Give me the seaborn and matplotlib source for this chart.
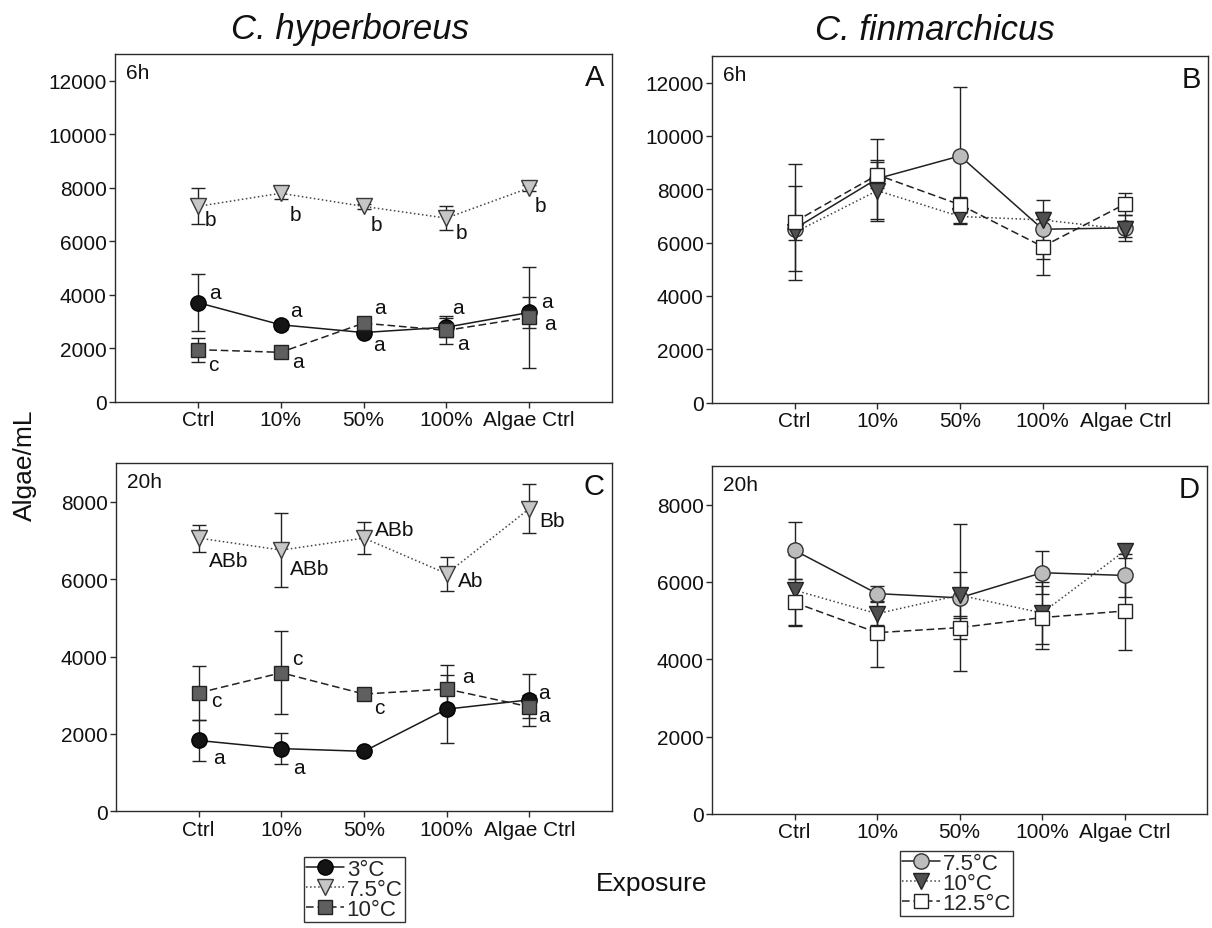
import matplotlib
matplotlib.use("Agg")
import matplotlib.pyplot as plt
import pandas as pd
import seaborn as sns

# ---------------------------------------------------------------- data
exposure = ["Ctrl", "10%", "50%", "100%", "Algae Ctrl"]

# C. hyperboreus, 6 h  (mean, SD)
hyp6_3C = [3700, 2870, 2580, 2780, 3330]
hyp6_3C_sd = [1070, 150, 100, 350, 580]
hyp6_75C = [7300, 7790, 7300, 6860, 7990]
hyp6_75C_sd = [670, 200, 100, 450, 100]
hyp6_10C = [1940, 1840, 2930, 2660, 3150]
hyp6_10C_sd = [450, 100, 150, 520, 1900]

# C. hyperboreus, 20 h
hyp20_3C = [1830, 1620, 1550, 2640, 2880]
hyp20_3C_sd = [520, 400, 80, 880, 670]
hyp20_75C = [7060, 6750, 7060, 6140, 7820]
hyp20_75C_sd = [350, 950, 420, 440, 630]
hyp20_10C = [3060, 3580, 3030, 3160, 2700]
hyp20_10C_sd = [700, 1070, 120, 620, 300]

# C. finmarchicus, 6 h
fin6_75C = [6520, 8400, 9250, 6500, 6550]
fin6_75C_sd = [1600, 1500, 2570, 1100, 500]
fin6_10C = [6380, 7950, 6980, 6850, 6500]
fin6_10C_sd = [300, 1150, 250, 300, 300]
fin6_125C = [6780, 8540, 7420, 5850, 7450]
fin6_125C_sd = [2170, 500, 300, 1050, 400]

# C. finmarchicus, 20 h
fin20_75C = [6820, 5700, 5590, 6240, 6170]
fin20_75C_sd = [740, 200, 1900, 550, 560]
fin20_10C = [5790, 5180, 5660, 5200, 6800]
fin20_10C_sd = [900, 300, 590, 800, 170]
fin20_125C = [5470, 4690, 4820, 5080, 5250]
fin20_125C_sd = [600, 890, 300, 820, 1020]

# significance letters (C. hyperboreus)
hyp6_3C_sig = ["a", "a", "a", "a", "a"]
hyp6_75C_sig = ["b", "b", "b", "b", "b"]
hyp6_10C_sig = ["c", "a", "a", "a", "a"]
hyp20_3C_sig = ["a", "a", "", "", "a"]
hyp20_75C_sig = ["ABb", "ABb", "ABb", "Ab", "Bb"]
hyp20_10C_sig = ["c", "c", "c", "a", "a"]

# letter offsets from the marker, in pixels (right, up)
hyp6_3C_off = [(17, 10), (15, 14), (15, -12), (12, 20), (18, 11)]
hyp6_75C_off = [(13, -13), (15, -21), (13, -18), (15, -14), (11, -18)]
hyp6_10C_off = [(15, -15), (17, -9), (16, 16), (17, -13), (21, -6)]
hyp20_3C_off = [(20, -17), (18, -19), (0, 0), (0, 0), (15, 7)]
hyp20_75C_off = [(30, -22), (28, -18), (31, 9), (24, -7), (23, -12)]
hyp20_10C_off = [(18, -8), (16, 14), (15, -13), (21, 13), (15, -9)]

# ---------------------------------------------------------------- style
sns.set_theme(style="ticks")
plt.rcParams["font.family"] = ["Liberation Sans", "DejaVu Sans"]
plt.rcParams["axes.edgecolor"] = "#2b2b2b"
plt.rcParams["axes.linewidth"] = 1.0

W, H = 1212, 929
PX = 72 / 100  # points per pixel

fig = plt.figure(figsize=(W / 100, H / 100), dpi=100)


def box(left, top, right, bottom):
    return [left / W, 1 - bottom / H, (right - left) / W, (bottom - top) / H]


axA = fig.add_axes(box(115, 55, 612, 402.5))
axB = fig.add_axes(box(712, 57, 1208, 403.5))
axC = fig.add_axes(box(116, 464, 612, 812.3))
axD = fig.add_axes(box(712, 467, 1207, 815))

hyp_styles = {
    "3°C": dict(marker="o", mfc="#141414", mec="#000000", ls="-", color="#1a1a1a", ms=11),
    "7.5°C": dict(marker="v", mfc="#c6c6c6", mec="#3a3a3a", ls=":", color="#444444", ms=11.5),
    "10°C": dict(marker="s", mfc="#5f5f5f", mec="#222222", ls=(0, (5, 2.5)), color="#222222", ms=9.5),
}
fin_styles = {
    "7.5°C": dict(marker="o", mfc="#bcbcbc", mec="#333333", ls="-", color="#222222", ms=11),
    "10°C": dict(marker="v", mfc="#505050", mec="#222222", ls=":", color="#444444", ms=11.5),
    "12.5°C": dict(marker="s", mfc="#ffffff", mec="#222222", ls=(0, (5, 2.5)), color="#222222", ms=10),
}


def draw_series(ax, label, values, sd, st, letters=None, offsets=None):
    df = pd.DataFrame({"exposure": exposure, "cells": values})
    ax.errorbar(exposure, values, yerr=sd, fmt="none", ecolor="#222222",
                elinewidth=1.0, capsize=5, capthick=1.0, zorder=2)
    sns.lineplot(data=df, x="exposure", y="cells", ax=ax, sort=False,
                 errorbar=None, label=label, color=st["color"],
                 linestyle=st["ls"], linewidth=1.1, marker=st["marker"],
                 markersize=st["ms"], markerfacecolor=st["mfc"],
                 markeredgecolor=st["mec"], markeredgewidth=1.0, zorder=3)
    if letters:
        for i, (txt, (dx, dy)) in enumerate(zip(letters, offsets)):
            if txt:
                ax.annotate(txt, xy=(i, values[i]), xytext=(dx * PX, dy * PX),
                            textcoords="offset points", ha="center",
                            va="center", fontsize=15, color="#111111")


def finish(ax, ymax, ytick_max, hours, letter):
    ax.set_xlim(-1.0, 5.0)
    ax.set_ylim(0, ymax)
    ax.set_yticks(range(0, ytick_max + 1, 2000))
    ax.set_xticks(range(len(exposure)))
    ax.set_xticklabels(exposure)
    ax.set_xlabel("")
    ax.set_ylabel("")
    for s in ax.spines.values():
        s.set_visible(True)
        s.set_color("#2b2b2b")
        s.set_linewidth(1.0)
    ax.tick_params(axis="both", direction="out", length=4.5, width=1.0,
                   labelsize=15, pad=1.5, colors="#2b2b2b", labelcolor="#111111")
    ax.tick_params(top=False, right=False)
    ax.text(0.022, 0.975, hours, transform=ax.transAxes, ha="left", va="top",
            fontsize=15, color="#111111")
    ax.text(0.985, 0.975, letter, transform=ax.transAxes, ha="right", va="top",
            fontsize=21, color="#111111")
    leg = ax.get_legend()
    if leg is not None:
        leg.remove()


# Panel A: C. hyperboreus 6 h
draw_series(axA, "3°C", hyp6_3C, hyp6_3C_sd, hyp_styles["3°C"], hyp6_3C_sig, hyp6_3C_off)
draw_series(axA, "7.5°C", hyp6_75C, hyp6_75C_sd, hyp_styles["7.5°C"], hyp6_75C_sig, hyp6_75C_off)
draw_series(axA, "10°C", hyp6_10C, hyp6_10C_sd, hyp_styles["10°C"], hyp6_10C_sig, hyp6_10C_off)
finish(axA, 13000, 12000, "6h", "A")

# Panel B: C. finmarchicus 6 h
draw_series(axB, "7.5°C", fin6_75C, fin6_75C_sd, fin_styles["7.5°C"])
draw_series(axB, "10°C", fin6_10C, fin6_10C_sd, fin_styles["10°C"])
draw_series(axB, "12.5°C", fin6_125C, fin6_125C_sd, fin_styles["12.5°C"])
finish(axB, 13000, 12000, "6h", "B")

# Panel C: C. hyperboreus 20 h
draw_series(axC, "3°C", hyp20_3C, hyp20_3C_sd, hyp_styles["3°C"], hyp20_3C_sig, hyp20_3C_off)
draw_series(axC, "7.5°C", hyp20_75C, hyp20_75C_sd, hyp_styles["7.5°C"], hyp20_75C_sig, hyp20_75C_off)
draw_series(axC, "10°C", hyp20_10C, hyp20_10C_sd, hyp_styles["10°C"], hyp20_10C_sig, hyp20_10C_off)
hyp_handles, hyp_labels = axC.get_legend_handles_labels()
finish(axC, 9000, 8000, "20h", "C")

# Panel D: C. finmarchicus 20 h
draw_series(axD, "7.5°C", fin20_75C, fin20_75C_sd, fin_styles["7.5°C"])
draw_series(axD, "10°C", fin20_10C, fin20_10C_sd, fin_styles["10°C"])
draw_series(axD, "12.5°C", fin20_125C, fin20_125C_sd, fin_styles["12.5°C"])
fin_handles, fin_labels = axD.get_legend_handles_labels()
finish(axD, 9000, 8000, "20h", "D")

# species titles and shared axis labels
fig.text(350 / W, 1 - 29 / H, "C. hyperboreus", ha="center", va="center",
         fontsize=25, fontstyle="italic", color="#111111")
fig.text(935 / W, 1 - 31 / H, "C. finmarchicus", ha="center", va="center",
         fontsize=25, fontstyle="italic", color="#111111")
fig.text(25 / W, 1 - 465 / H, "Algae/mL", ha="center", va="center",
         rotation=90, fontsize=19, color="#111111")
fig.text(652 / W, 1 - 884 / H, "Exposure", ha="center", va="center",
         fontsize=19, color="#111111")

legend_kw = dict(loc="upper left", frameon=True, fancybox=False, fontsize=16,
                 handlelength=1.7, handletextpad=0.12, borderpad=0.1,
                 labelspacing=-0.05, borderaxespad=0, numpoints=1,
                 edgecolor="#333333")
legL = fig.legend(hyp_handles, hyp_labels, bbox_to_anchor=(304 / W, 1 - 858 / H),
                  **legend_kw)
legR = fig.legend(fin_handles, fin_labels, bbox_to_anchor=(900 / W, 1 - 852 / H),
                  **legend_kw)
for leg in (legL, legR):
    leg.get_frame().set_linewidth(1.0)
    leg.get_frame().set_alpha(1)

fig.savefig("out.png", dpi=100, facecolor="white")
